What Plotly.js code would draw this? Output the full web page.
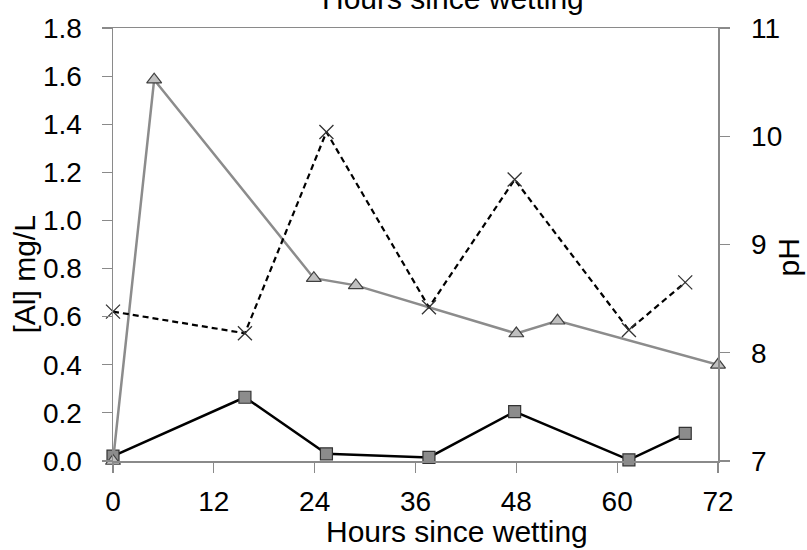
<!DOCTYPE html>
<html>
<head>
<meta charset="utf-8">
<script src="https://cdn.plot.ly/plotly-3.0.1.min.js"></script>
<style>html,body{margin:0;padding:0;background:#fff;}#chart{width:807px;height:550px;}</style>
</head>
<body>
<div id="chart"></div>
<script>
// Hours since wetting for each series
var hoursSquares = [0, 15.7, 25.4, 37.6, 47.8, 61.4, 68.1];
var alSquares = [0.02, 0.265, 0.03, 0.015, 0.205, 0.005, 0.115];

var hoursTriangles = [0, 4.9, 23.9, 28.9, 48.0, 52.9, 72.0];
var alTriangles = [0.0, 1.585, 0.76, 0.73, 0.53, 0.583, 0.40];

var hoursPH = [0, 15.7, 25.4, 37.6, 47.8, 61.4, 68.1];
var pHValues = [8.38, 8.18, 10.04, 8.42, 9.60, 8.21, 8.65];

var xTicks = [0, 12, 24, 36, 48, 60, 72];
var yTicks = [0, 0.2, 0.4, 0.6, 0.8, 1.0, 1.2, 1.4, 1.6, 1.8];
var y2Ticks = [7, 8, 9, 10, 11];

var FONT = 'Liberation Sans, Arial, sans-serif';
var AXC = '#8a8a8a';

var traces = [
  {
    x: hoursSquares, y: alSquares, type: 'scatter', mode: 'lines+markers',
    line: {color: '#000000', width: 2.5},
    marker: {symbol: 'square', size: 12, color: '#8c8c8c', line: {color: '#333333', width: 1.2}},
    cliponaxis: false, showlegend: false, xaxis: 'x', yaxis: 'y'
  },
  {
    x: hoursTriangles, y: alTriangles, type: 'scatter', mode: 'lines+markers',
    line: {color: '#8c8c8c', width: 2.5},
    marker: {symbol: 'triangle-up', size: 13, color: '#c0c0c0', line: {color: '#404040', width: 1.2}},
    cliponaxis: false, showlegend: false, xaxis: 'x', yaxis: 'y'
  },
  {
    x: hoursPH, y: pHValues, type: 'scatter', mode: 'lines+markers',
    line: {color: '#000000', width: 2.2, dash: '6px,4px'},
    marker: {symbol: 'x-thin', size: 14, color: '#333333', line: {color: '#333333', width: 1.3}},
    cliponaxis: false, showlegend: false, xaxis: 'x', yaxis: 'y2'
  }
];

var layout = {
  width: 807, height: 550,
  margin: {l: 113, r: 89, t: 28, b: 89, pad: 0},
  paper_bgcolor: '#ffffff', plot_bgcolor: '#ffffff',
  font: {family: FONT, color: '#000000', size: 28},
  showlegend: false,
  xaxis: {
    range: [0, 72], tickvals: xTicks, ticktext: xTicks.map(String),
    showgrid: false, zeroline: false,
    showline: true, linecolor: AXC, linewidth: 1.5, mirror: true,
    ticks: 'outside', ticklen: 10, tickcolor: AXC, tickwidth: 1.2,
    ticklabelstandoff: 5,
    tickfont: {family: FONT, size: 28, color: '#000'}
  },
  yaxis: {
    range: [0, 1.8], tickvals: yTicks, ticktext: yTicks.map(function(v){return v.toFixed(1);}),
    showgrid: false, zeroline: false,
    showline: true, linecolor: AXC, linewidth: 1.5,
    ticks: 'outside', ticklen: 10, tickcolor: AXC, tickwidth: 1.2,
    ticklabelstandoff: 14,
    tickfont: {family: FONT, size: 28, color: '#000'}
  },
  yaxis2: {
    range: [7, 11], tickvals: y2Ticks, ticktext: y2Ticks.map(String),
    overlaying: 'y', side: 'right',
    showgrid: false, zeroline: false,
    showline: true, linecolor: AXC, linewidth: 1.5,
    ticks: 'outside', ticklen: 10, tickcolor: AXC, tickwidth: 1.2,
    ticklabelstandoff: 16,
    tickfont: {family: FONT, size: 28, color: '#000'}
  },
  annotations: [
    {text: 'Hours since wetting', xref: 'paper', yref: 'paper', x: 0, y: 0,
     xshift: 344, yshift: -70, xanchor: 'center', yanchor: 'middle', showarrow: false,
     font: {family: FONT, size: 30, color: '#000'}},
    {text: 'Hours since wetting', xref: 'paper', yref: 'paper', x: 0, y: 1,
     xshift: 340, yshift: 30, xanchor: 'center', yanchor: 'middle', showarrow: false,
     font: {family: FONT, size: 30, color: '#000'}},
    {text: '[Al] mg/L', xref: 'paper', yref: 'paper', x: 0, y: 0.5,
     xshift: -89, yshift: -30, xanchor: 'center', yanchor: 'middle', textangle: -90, showarrow: false,
     font: {family: FONT, size: 30, color: '#000'}},
    {text: 'pH', xref: 'paper', yref: 'paper', x: 1, y: 0.5,
     xshift: 70, yshift: -13, xanchor: 'center', yanchor: 'middle', textangle: -90, showarrow: false,
     font: {family: FONT, size: 30, color: '#000'}}
  ]
};

Plotly.newPlot('chart', traces, layout, {displayModeBar: false, staticPlot: true});
</script>
</body>
</html>
